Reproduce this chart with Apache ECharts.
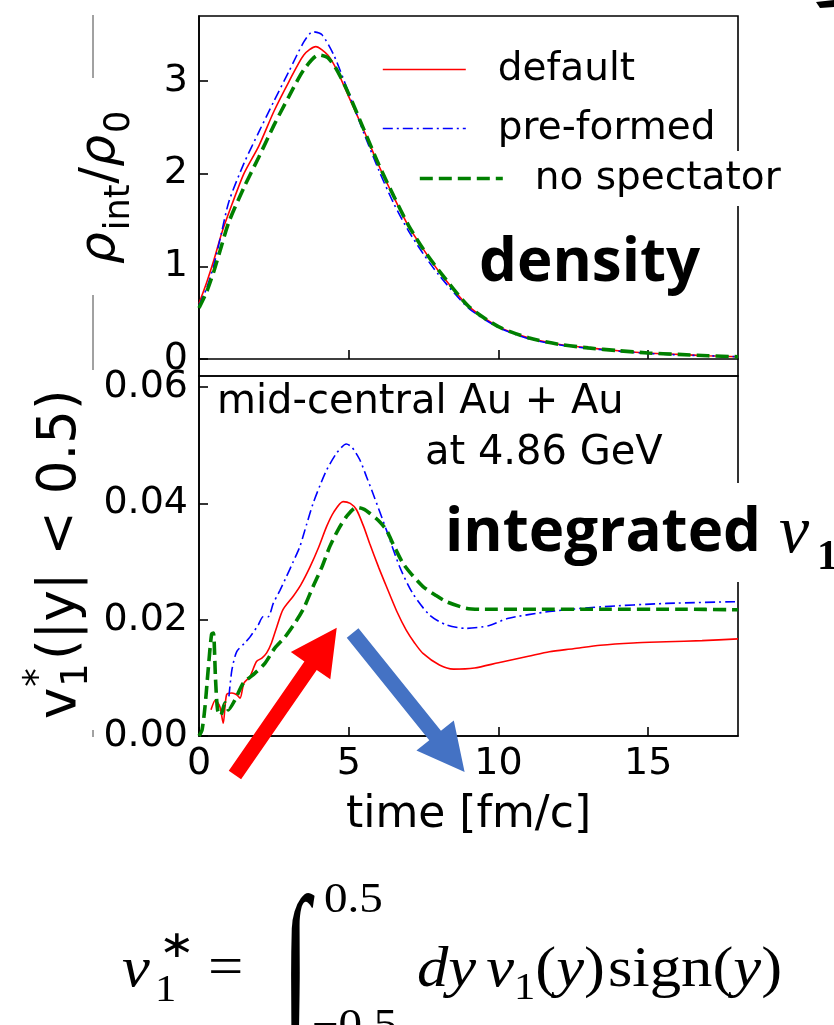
<!DOCTYPE html>
<html>
<head>
<meta charset="utf-8">
<script src="https://cdn.jsdelivr.net/npm/echarts@6/dist/echarts.min.js"></script>
<style>
  html, body { margin: 0; padding: 0; background: #fff; }
  #chart { width: 834px; height: 1025px; }
</style>
</head>
<body>
<div id="chart"></div>
<script>
// ---- tick positions ----
const timeTicks = [0, 5, 10, 15];
const densityTicks = [0, 1, 2, 3];
const flowTicks = [0, 0.02, 0.04, 0.06];

// ---- interaction-region density rho_int / rho_0 ----
const densityTimeDefault = [0, 0.25, 0.5, 0.75, 1, 1.5, 2, 2.5, 3, 3.5, 3.9, 4.3, 4.6, 5, 5.5, 6, 6.5, 7, 7.5, 8, 9, 10, 11, 12, 13, 14, 15, 16, 17, 18];
const densityDefault     = [0.60, 0.82, 1.07, 1.35, 1.58, 2.00, 2.30, 2.67, 2.99, 3.28, 3.37, 3.28, 3.12, 2.83, 2.47, 2.09, 1.75, 1.43, 1.18, 0.95, 0.57, 0.35, 0.23, 0.16, 0.12, 0.09, 0.065, 0.05, 0.035, 0.025];

const densityTimePreformed = [0, 0.25, 0.5, 0.75, 1, 1.5, 2, 2.5, 3, 3.5, 3.8, 4.1, 4.5, 5, 5.5, 6, 6.5, 7, 7.5, 8, 9, 10, 11, 12, 13, 14, 15, 16, 17, 18];
const densityPreformed     = [0.58, 0.76, 1.02, 1.36, 1.70, 2.11, 2.45, 2.78, 3.10, 3.42, 3.53, 3.50, 3.28, 2.87, 2.44, 2.04, 1.68, 1.38, 1.13, 0.91, 0.55, 0.34, 0.22, 0.155, 0.115, 0.085, 0.06, 0.045, 0.035, 0.025];

const densityTimeNoSpectator = [0, 0.25, 0.5, 0.75, 1, 1.5, 2, 2.5, 3, 3.5, 4, 4.3, 4.6, 5, 5.5, 6, 6.5, 7, 7.5, 8, 9, 10, 11, 12, 13, 14, 15, 16, 17, 18];
const densityNoSpectator     = [0.55, 0.72, 0.95, 1.22, 1.48, 1.85, 2.18, 2.52, 2.83, 3.12, 3.28, 3.25, 3.12, 2.86, 2.48, 2.10, 1.76, 1.44, 1.18, 0.96, 0.57, 0.35, 0.23, 0.16, 0.12, 0.09, 0.065, 0.05, 0.035, 0.025];

// ---- integrated directed flow v1*(|y|<0.5) ----
const flowTimeDefault = [0.4, 0.55, 0.7, 0.81, 0.92, 1.1, 1.26, 1.37, 1.5, 1.7, 1.92, 2.1, 2.26, 2.42, 2.6, 2.8, 3.14, 3.4, 3.7, 4.0, 4.26, 4.5, 4.81, 5.05, 5.26, 5.5, 5.7, 6.0, 6.26, 6.6, 6.92, 7.2, 7.48, 8.03, 8.5, 9.2, 10.0, 11.0, 11.7, 12.5, 13.4, 14.5, 15.6, 16.8, 18];
const flowDefault     = [0.0045, 0.0062, 0.005, 0.0022, 0.0071, 0.0074, 0.0071, 0.0065, 0.0091, 0.0102, 0.0128, 0.0134, 0.0143, 0.016, 0.0188, 0.0217, 0.024, 0.026, 0.029, 0.0325, 0.036, 0.0385, 0.0403, 0.0400, 0.0389, 0.036, 0.0331, 0.029, 0.0257, 0.0215, 0.0182, 0.016, 0.0142, 0.0122, 0.0115, 0.0117, 0.0126, 0.0137, 0.0145, 0.015, 0.0156, 0.016, 0.0162, 0.0164, 0.0167];

const flowTimePreformed = [1.0, 1.1, 1.26, 1.53, 1.7, 1.98, 2.14, 2.31, 2.48, 2.7, 2.92, 3.15, 3.37, 3.6, 3.81, 4.05, 4.26, 4.59, 4.92, 5.1, 5.37, 5.6, 5.81, 6.26, 6.7, 7.14, 7.7, 8.26, 8.92, 9.7, 10.3, 11.7, 13.4, 15.6, 18];
const flowPreformed     = [0.0068, 0.0114, 0.0145, 0.016, 0.017, 0.0191, 0.0205, 0.0205, 0.0228, 0.025, 0.0274, 0.030, 0.0326, 0.0365, 0.040, 0.0432, 0.0457, 0.0486, 0.0502, 0.0497, 0.0475, 0.0445, 0.0417, 0.0354, 0.0291, 0.0245, 0.0208, 0.0191, 0.0185, 0.019, 0.0202, 0.0214, 0.0222, 0.0228, 0.0231];

const flowTimeNoSpectator = [0, 0.1, 0.2, 0.3, 0.42, 0.48, 0.55, 0.62, 0.72, 0.87, 0.98, 1.2, 1.48, 1.87, 2.2, 2.53, 2.87, 3.2, 3.5, 3.81, 4.1, 4.37, 4.65, 4.92, 5.26, 5.5, 5.7, 6.0, 6.26, 6.5, 6.81, 7.1, 7.48, 7.9, 8.26, 8.9, 9.4, 11, 13.4, 16, 18];
const flowNoSpectator     = [0.0, 0.001, 0.005, 0.011, 0.0175, 0.0177, 0.010, 0.0045, 0.0035, 0.0057, 0.0045, 0.0062, 0.0091, 0.0108, 0.0125, 0.0151, 0.017, 0.0194, 0.022, 0.0257, 0.029, 0.0326, 0.0355, 0.0377, 0.0393, 0.039, 0.0383, 0.037, 0.0354, 0.0328, 0.0297, 0.0278, 0.0257, 0.0242, 0.0231, 0.022, 0.0218, 0.0218, 0.0218, 0.0218, 0.0217];

// ---- arrows (data coordinates of the lower panel: tail -> tip) ----
const riseArrow = [[1.2, -0.0067], [4.6, 0.0186]];
const fallArrow = [[5.13, 0.0177], [8.87, -0.0062]];

const zip = (xs, ys) => xs.map((x, i) => [x, ys[i]]);

const SANS = '"DejaVu Sans"';
const BOLD = '"Open Sans"';
const SERIF = '"Liberation Serif"';

const styles = {
  default: { color: '#ff0000', width: 1.6, type: 'solid' },
  preformed: { color: '#0000ff', width: 1.6, type: [10, 4, 2, 4] },
  noSpectator: { color: '#008000', width: 3.6, type: [13, 6] }
};

function lineSeries(name, data, st, panel) {
  return {
    name, type: 'line', data,
    xAxisIndex: panel, yAxisIndex: panel,
    symbol: 'none', smooth: 0.25,
    lineStyle: { color: st.color, width: st.width, type: st.type },
    itemStyle: { color: st.color },
    emphasis: { disabled: true },
    animation: false
  };
}

const chart = echarts.init(document.getElementById('chart'), null, { renderer: 'canvas' });

const tickLabel = { fontSize: 38, fontFamily: SANS, color: '#000' };
const axisLineStyle = { show: true, lineStyle: { color: '#000', width: 1.6 } };
const tickStyle = { color: '#000', width: 1.6 };

function legendItem(name, st, left, top, extra) {
  return Object.assign({
    data: [name], left, top, orient: 'horizontal',
    itemWidth: 83, itemHeight: 14, padding: 0,
    selectedMode: false,
    itemStyle: { color: 'rgba(0,0,0,0)', borderColor: 'rgba(0,0,0,0)', borderWidth: 0, opacity: 0 },
    lineStyle: { color: st.color, width: st.width, type: st.type },
    textStyle: { fontSize: 39, fontFamily: SANS, color: '#000', padding: [0, 0, 0, 27] }
  }, extra || {});
}

chart.setOption({
  backgroundColor: '#fff',
  animation: false,
  grid: [
    { left: 199, top: 16, width: 539, height: 360, show: true, borderColor: '#000', borderWidth: 1.6, backgroundColor: 'transparent' },
    { left: 199, top: 376, width: 539, height: 360, show: true, borderColor: '#000', borderWidth: 1.6, backgroundColor: 'transparent' }
  ],
  xAxis: [
    {
      gridIndex: 0, type: 'value', min: 0, max: 18,
      axisLine: axisLineStyle,
      axisTick: { show: true, inside: true, length: 9, customValues: timeTicks, lineStyle: tickStyle },
      axisLabel: { show: false },
      splitLine: { show: false }
    },
    {
      gridIndex: 1, type: 'value', min: 0, max: 18,
      axisLine: axisLineStyle,
      axisTick: { show: true, inside: true, length: 9, customValues: timeTicks, lineStyle: tickStyle },
      axisLabel: Object.assign({ customValues: timeTicks, margin: 9 }, tickLabel),
      splitLine: { show: false },
      name: 'time [fm/c]', nameLocation: 'middle', nameGap: 58,
      nameTextStyle: { fontSize: 44, fontFamily: SANS, color: '#000' }
    }
  ],
  yAxis: [
    {
      gridIndex: 0, type: 'value', min: -0.183, max: 3.70,
      axisLine: axisLineStyle,
      axisTick: { show: true, inside: true, length: 9, customValues: densityTicks, lineStyle: tickStyle },
      axisLabel: Object.assign({ customValues: densityTicks, margin: 11, formatter: v => String(Math.round(v)) }, tickLabel),
      splitLine: { show: false }
    },
    {
      gridIndex: 1, type: 'value', min: 0, max: 0.0619,
      axisLine: axisLineStyle,
      axisTick: { show: true, inside: true, length: 9, customValues: flowTicks, lineStyle: tickStyle },
      axisLabel: Object.assign({ customValues: flowTicks, margin: 11, formatter: v => v.toFixed(2) }, tickLabel),
      splitLine: { show: false }
    }
  ],
  legend: [
    legendItem('default', styles.default, 382, 50),
    legendItem('pre-formed', styles.preformed, 382, 109),
    legendItem('no spectator', styles.noSpectator, 413, 151, { padding: [8, 6, 8, 5], backgroundColor: '#fff' })
  ],
  series: [
    lineSeries('default', zip(densityTimeDefault, densityDefault), styles.default, 0),
    lineSeries('pre-formed', zip(densityTimePreformed, densityPreformed), styles.preformed, 0),
    lineSeries('no spectator', zip(densityTimeNoSpectator, densityNoSpectator), styles.noSpectator, 0),
    lineSeries('default', zip(flowTimeDefault, flowDefault), styles.default, 1),
    lineSeries('pre-formed', zip(flowTimePreformed, flowPreformed), styles.preformed, 1),
    lineSeries('no spectator', zip(flowTimeNoSpectator, flowNoSpectator), styles.noSpectator, 1)
  ]
});

// ---- text helpers: place text by its alphabetic baseline ----
const measureCtx = document.createElement('canvas').getContext('2d');
function midOffset(font) {
  measureCtx.font = font;
  const m = measureCtx.measureText('Hg');
  const a = m.fontBoundingBoxAscent, d = m.fontBoundingBoxDescent;
  if (a === undefined) return 0.35 * parseFloat(font.match(/(\d+(\.\d+)?)px/)[1]);
  return (a - d) / 2;
}
function textWidth(font, s) {
  measureCtx.font = font;
  return measureCtx.measureText(s).width;
}
function txt(s, font, x, baseline, extra) {
  return Object.assign({
    type: 'text', x: x, y: baseline - midOffset(font), z: 100,
    style: {
      text: s, font: font, fill: '#000',
      align: 'left', verticalAlign: 'middle',
      textAlign: 'left', textVerticalAlign: 'middle'
    }
  }, extra || {});
}
// lay pieces left-to-right on a common baseline; sx widens every glyph horizontally
function run(pieces, x0, baseline, sx) {
  const k = sx || 1;
  const out = [];
  let x = x0;
  pieces.forEach(p => {
    x += p.dx || 0;
    out.push(txt(p.t, p.font, x, baseline + (p.dy || 0), k !== 1 ? { scaleX: k } : null));
    x += textWidth(p.font, p.t) * k;
  });
  return out;
}

function arrowPolygon(tail, tip, shaftHalf, headHalf, headLen, color) {
  const ux = tip[0] - tail[0], uy = tip[1] - tail[1];
  const len = Math.hypot(ux, uy);
  const dx = ux / len, dy = uy / len;
  const nx = -dy, ny = dx;
  const bx = tip[0] - dx * headLen, by = tip[1] - dy * headLen;
  return {
    type: 'polygon', z: 90,
    shape: {
      points: [
        [tail[0] + nx * shaftHalf, tail[1] + ny * shaftHalf],
        [bx + nx * shaftHalf, by + ny * shaftHalf],
        [bx + nx * headHalf, by + ny * headHalf],
        [tip[0], tip[1]],
        [bx - nx * headHalf, by - ny * headHalf],
        [bx - nx * shaftHalf, by - ny * shaftHalf],
        [tail[0] - nx * shaftHalf, tail[1] - ny * shaftHalf]
      ]
    },
    style: { fill: color }
  };
}

const toPx = p => chart.convertToPixel({ gridIndex: 1 }, p);

const fontRho = 'italic 50px ' + SANS;
const fontRhoSub = '35px ' + SANS;
const fontLab = '53px ' + SANS;
const fontLabSub = '37px ' + SANS;

const graphics = [];

// vertical axis title of the density panel (rotated, reads bottom to top)
graphics.push({
  type: 'group', x: 118, y: 264, rotation: Math.PI / 2, z: 100,
  children: run([
    { t: 'ρ', font: fontRho },
    { t: 'int', font: fontRhoSub, dy: 14, dx: 2 },
    { t: '/', font: '50px ' + SANS, dx: 1 },
    { t: 'ρ', font: fontRho },
    { t: '0', font: fontRhoSub, dy: 14, dx: 2 }
  ], 0, 0)
});

// vertical axis title of the flow panel: v1*(|y| < 0.5)
(function () {
  const vW = textWidth(fontLab, 'v');
  const oneW = textWidth(fontLabSub, '1');
  const children = [
    txt('v', fontLab, 0, 0),
    txt('1', fontLabSub, vW + 1, 10),
    txt('*', fontLabSub, vW + 1, -27),
    txt('(|y| < 0.5)', fontLab, vW + oneW + 4, 0)
  ];
  graphics.push({ type: 'group', x: 80, y: 719, rotation: Math.PI / 2, z: 100, children });
})();

// panel annotations
graphics.push(txt('density', 'bold 60px ' + BOLD, 479, 287));
graphics.push({
  type: 'rect', z: 95, shape: { x: 440, y: 483, width: 394, height: 99 }, style: { fill: '#fff' }
});
graphics.push(txt('integrated', 'bold 60px ' + BOLD, 445, 557));
graphics.push(txt('v', 'italic 68px ' + SERIF, 779, 557));
graphics.push(txt('1', 'bold 42px ' + SERIF, 817, 572));
graphics.push(txt('mid-central Au + Au', '40px ' + SANS, 217, 417));
graphics.push(txt('at 4.86 GeV', '40px ' + SANS, 425, 468));

// integrated-flow definition: v1* = ∫_{-0.5}^{0.5} dy v1(y) sign(y)
(function () {
  const SX = 1.12;
  const fI = 'italic 56px ' + SERIF;
  const fR = '56px ' + SERIF;
  const fSub = '38px ' + SERIF;
  const fLim = '42px ' + SERIF;
  const w = { scaleX: SX };
  graphics.push(txt('v', fI, 122, 990, w));
  graphics.push(txt('1', fSub, 155, 1004, w));
  graphics.push(txt('∗', fSub, 159, 960, w));
  graphics.push(txt('=', fR, 208, 989, w));
  graphics.push(txt('∫', '100px ' + SERIF, 282, 1006, { scaleY: 1.75, scaleX: 1.0, originY: 0 }));
  graphics.push(txt('0.5', fLim, 324, 915, w));
  graphics.push(txt('−0.5', fLim, 312, 1041, w));
  graphics.push.apply(graphics, run([
    { t: 'dy', font: fI },
    { t: 'v', font: fI, dx: 10 },
    { t: '1', font: fSub, dy: 12 },
    { t: '(', font: fR },
    { t: 'y', font: fI },
    { t: ')', font: fR },
    { t: 'sign(', font: fR, dx: 3 },
    { t: 'y', font: fI },
    { t: ')', font: fR }
  ], 417, 990, SX));
})();

// stray edge marks
graphics.push({ type: 'line', z: 100, shape: { x1: 93, y1: 15, x2: 93, y2: 78 }, style: { stroke: '#444', lineWidth: 1 } });
graphics.push({ type: 'line', z: 100, shape: { x1: 93, y1: 295, x2: 93, y2: 370 }, style: { stroke: '#444', lineWidth: 1 } });
graphics.push({ type: 'line', z: 100, shape: { x1: 93, y1: 730, x2: 93, y2: 737 }, style: { stroke: '#444', lineWidth: 1 } });
graphics.push({ type: 'polygon', z: 100, shape: { points: [[816, 2], [834, 0], [834, 7], [820, 8]] }, style: { fill: '#000' } });

// arrows drawn from data coordinates of the flow panel
graphics.push(arrowPolygon(toPx(riseArrow[0]), toPx(riseArrow[1]), 7.5, 24, 46, '#ff0000'));
graphics.push(arrowPolygon(toPx(fallArrow[0]), toPx(fallArrow[1]), 7.5, 24, 47, '#4472c4'));

chart.setOption({ graphic: graphics });
</script>
</body>
</html>
